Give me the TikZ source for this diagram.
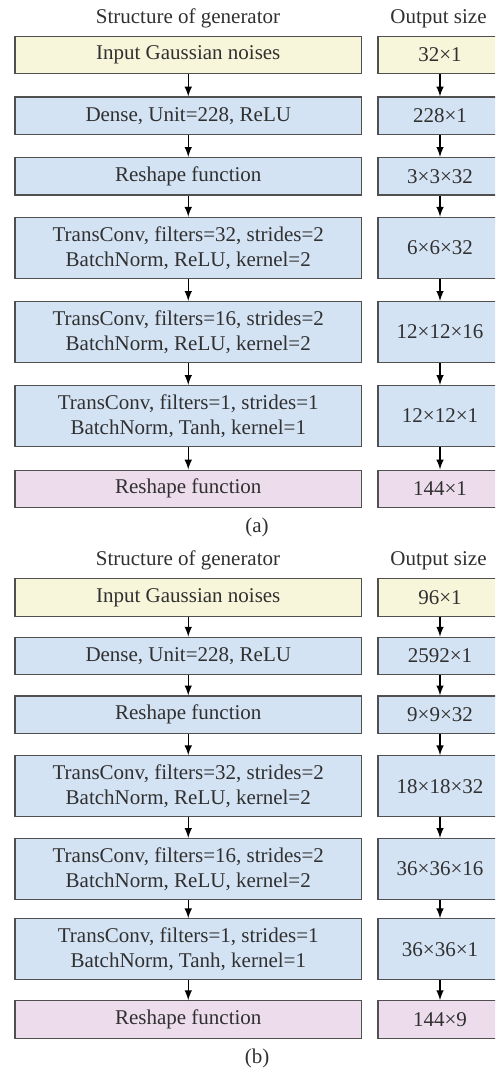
\documentclass[tikz,border=0pt]{standalone}
\usepackage{fontspec}
\setmainfont{Liberation Serif}
\definecolor{lightyellow}{HTML}{F8F6DA}
\definecolor{lightblue}{HTML}{D4E3F4}
\definecolor{lightpink}{HTML}{ECDCEC}
\definecolor{boxline}{HTML}{505050}
\definecolor{textgray}{HTML}{303030}

\begin{document}
\begin{tikzpicture}[x=0.5pt,y=-0.5pt,
  every node/.style={text=textgray, font=\fontsize{10.5}{12.5}\selectfont},
  layer/.style={draw=boxline, line width=0.55pt, align=center, minimum width=173.25pt, inner sep=0pt},
  size/.style={layer, minimum width=62pt},
  one/.style={minimum height=18.75pt},
  two/.style={minimum height=30.5pt},
  flow/.style={-latex, line width=0.7pt, black}]
\useasboundingbox (0,0) rectangle (495,1070);
\clip (0,0) rectangle (495,1070);
% (a)
\node[anchor=base] (ta) at (188,24) {Structure of generator};
\node[anchor=base] (sa) at (438.5,24) {Output size};
\node[layer,one,fill=lightyellow] (a1) at (188.25,55) {Input Gaussian noises};
\node[layer,one,fill=lightblue] (a2) at (188.25,115.8) {Dense, Unit=228, ReLU};
\node[layer,one,fill=lightblue] (a3) at (188.25,176.2) {Reshape function};
\node[layer,two,fill=lightblue] (a4) at (188.25,247.8) {TransConv, filters=32, strides=2\\BatchNorm, ReLU, kernel=2};
\node[layer,two,fill=lightblue] (a5) at (188.25,332) {TransConv, filters=16, strides=2\\BatchNorm, ReLU, kernel=2};
\node[layer,two,fill=lightblue] (a6) at (188.25,416) {TransConv, filters=1, strides=1\\BatchNorm, Tanh, kernel=1};
\node[layer,one,fill=lightpink] (a7) at (188.25,488.8) {Reshape function};
\node[size,one,fill=lightyellow] (as1) at (440,55) {32×1};
\node[size,one,fill=lightblue] (as2) at (440,115.8) {228×1};
\node[size,one,fill=lightblue] (as3) at (440,176.2) {3×3×32};
\node[size,two,fill=lightblue] (as4) at (440,247.8) {6×6×32};
\node[size,two,fill=lightblue] (as5) at (440,332) {12×12×16};
\node[size,two,fill=lightblue] (as6) at (440,416) {12×12×1};
\node[size,one,fill=lightpink] (as7) at (440,488.8) {144×1};
\node[anchor=base] (capa) at (257,532.7) {(a)};
% (b)
\node[anchor=base] (tb) at (188,565) {Structure of generator};
\node[anchor=base] (sb) at (438.5,565) {Output size};
\node[layer,one,fill=lightyellow] (b1) at (188.25,597.5) {Input Gaussian noises};
\node[layer,one,fill=lightblue] (b2) at (188.25,656) {Dense, Unit=228, ReLU};
\node[layer,one,fill=lightblue] (b3) at (188.25,714.7) {Reshape function};
\node[layer,two,fill=lightblue] (b4) at (188.25,786.3) {TransConv, filters=32, strides=2\\BatchNorm, ReLU, kernel=2};
\node[layer,two,fill=lightblue] (b5) at (188.25,869) {TransConv, filters=16, strides=2\\BatchNorm, ReLU, kernel=2};
\node[layer,two,fill=lightblue] (b6) at (188.25,949.3) {TransConv, filters=1, strides=1\\BatchNorm, Tanh, kernel=1};
\node[layer,one,fill=lightpink] (b7) at (188.25,1019.5) {Reshape function};
\node[size,one,fill=lightyellow] (bs1) at (440,597.5) {96×1};
\node[size,one,fill=lightblue] (bs2) at (440,656) {2592×1};
\node[size,one,fill=lightblue] (bs3) at (440,714.7) {9×9×32};
\node[size,two,fill=lightblue] (bs4) at (440,786.3) {18×18×32};
\node[size,two,fill=lightblue] (bs5) at (440,869) {36×36×16};
\node[size,two,fill=lightblue] (bs6) at (440,949.3) {36×36×1};
\node[size,one,fill=lightpink] (bs7) at (440,1019.5) {144×9};
\node[anchor=base] (capb) at (257,1063) {(b)};
% arrows
\foreach \p in {a,as,b,bs}
  \foreach \i/\j in {1/2,2/3,3/4,4/5,5/6,6/7}
    \draw[flow] (\p\i) -- (\p\j);
\end{tikzpicture}
\end{document}
